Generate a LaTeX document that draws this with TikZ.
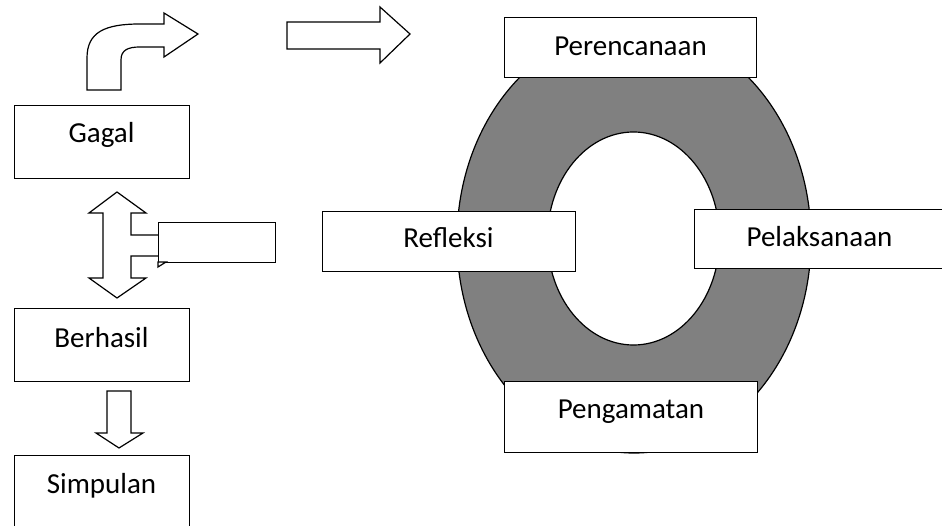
\documentclass[tikz,border=0pt]{standalone}
\usepackage{fontspec}
\setmainfont{Carlito}
\definecolor{ringgray}{RGB}{128,128,128}
\begin{document}
\begin{tikzpicture}[x=1pt,y=-1pt,
  box/.style={draw=black, fill=white, line width=1.2pt, rectangle, inner sep=0pt, anchor=north west},
  lbl/.style={font=\fontsize{29}{35}\selectfont, inner sep=0pt, anchor=base},
  blockarrow/.style={draw=black, fill=white, line width=1.2pt, line join=miter}]
\useasboundingbox (0,0) rectangle (942,526);
\clip (0,0) rectangle (942,526);
% ring
\fill[ringgray, draw=black, line width=1.2pt, even odd rule]
  (634,240) ellipse [x radius=177, y radius=213]
  (633.5,238.5) ellipse [x radius=86, y radius=106.5];
% ring boxes
\node[box, minimum width=252pt, minimum height=60pt] (per) at (504,17) {};
\node[lbl] (pertext) at (630.5,56) {Perencanaan};
\node[box, minimum width=253pt, minimum height=60pt] (ref) at (322,211) {};
\node[lbl] (reftext) at (448.5,248) {Refleksi};
\node[box, minimum width=252pt, minimum height=59pt] (pel) at (694,209) {};
\node[lbl] (peltext) at (819.5,246.7) {Pelaksanaan};
\node[box, minimum width=253pt, minimum height=71pt] (pen) at (504,381) {};
\node[lbl] (pentext) at (631,418.3) {Pengamatan};
% left column boxes
\node[box, minimum width=175pt, minimum height=73pt] (gagal) at (14,105) {};
\node[lbl] (gagaltext) at (101.5,142.3) {Gagal};
\node[box, minimum width=175pt, minimum height=73pt] (berhasil) at (14,308) {};
\node[lbl] (berhasiltext) at (101.5,347.3) {Berhasil};
\node[box, minimum width=175pt, minimum height=75pt] (simpulan) at (14,455) {};
\node[lbl] (simpulantext) at (101.5,493.3) {Simpulan};
% bent arrow
\draw[blockarrow] (87,90) -- (87,58) .. controls (87,32) and (105,24) .. (140,24)
  -- (164,24) -- (164,13) -- (198,34) -- (164,57) -- (164,47) -- (140,47)
  .. controls (128,47) and (121,50) .. (121,60) -- (121,90) -- cycle;
% right arrow
\draw[blockarrow] (287,22) -- (380,22) -- (380,7) -- (410,34) -- (380,63) -- (380,49) -- (287,49) -- cycle;
% up-down arrow with callout box
\draw[blockarrow] (117,192) -- (146,213) -- (131,213) -- (131,235) -- (160,235)
  -- (160,256) -- (131,256) -- (131,278) -- (146,278) -- (117,298) -- (89,278)
  -- (103,278) -- (103,213) -- (89,213) -- cycle;
\node[box, minimum width=117pt, minimum height=40pt] (callout) at (158,222) {};
\draw[line width=1.2pt, fill=white] (158,262) -- (166,262) -- (158,267) -- cycle;
% down arrow
\draw[blockarrow] (107,391) -- (131,391) -- (131,433) -- (143,433) -- (119,448) -- (96,433) -- (107,433) -- cycle;
\end{tikzpicture}
\end{document}
